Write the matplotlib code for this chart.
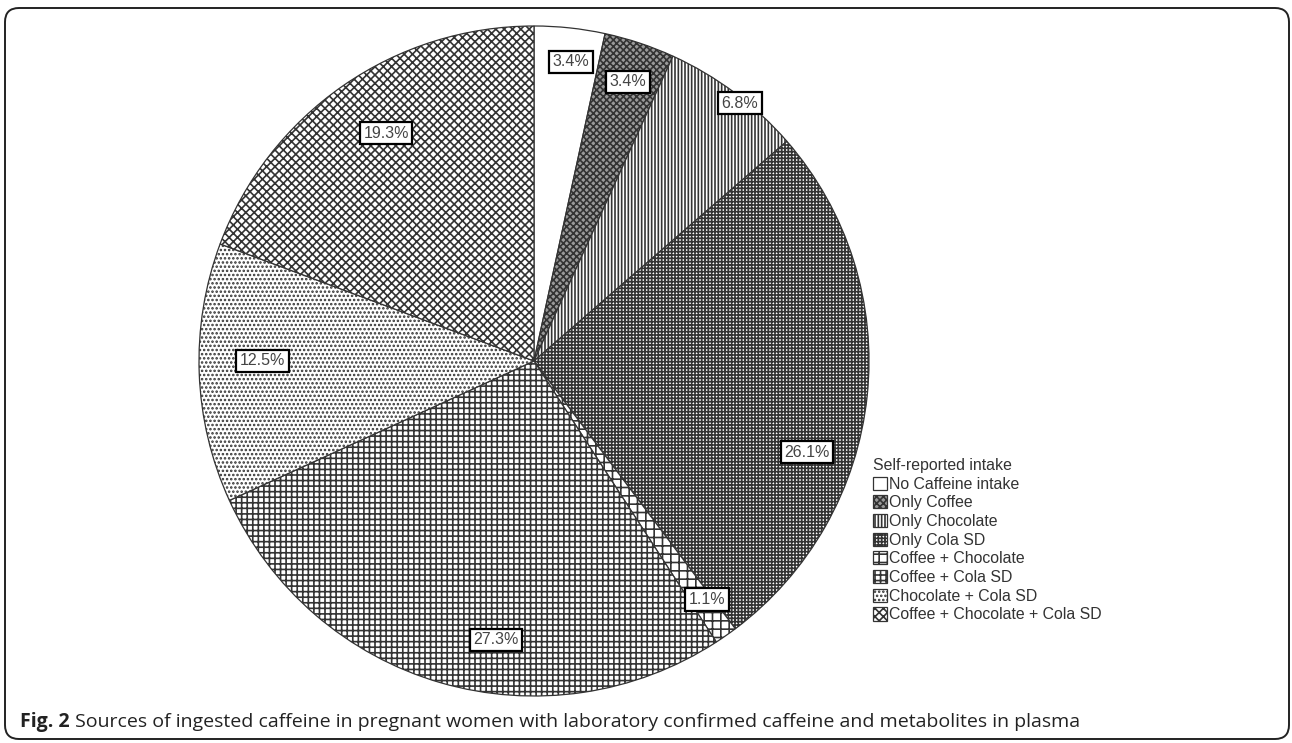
""" Pie chart of caffeine sources with hatched wedges. """

import matplotlib
matplotlib.use("Agg")
import matplotlib.pyplot as plt
from matplotlib.patches import FancyBboxPatch
import numpy as np

CATEGORIES = ["No Caffeine intake", "Only Coffee", "Only Chocolate", "Only Cola SD",
              "Coffee + Chocolate", "Coffee + Cola SD", "Chocolate + Cola SD",
              "Coffee + Chocolate + Cola SD"]
PERCENTS = [3.4, 3.4, 6.8, 26.1, 1.1, 27.3, 12.5, 19.3]

HATCHES = ["", "XXXXX", "|||||", "+++++", "++", "+++", "....", "xxxx"]
FACES = ["white", "#9a9a9a", "white", "white", "white", "white", "white", "white"]
# where each percentage box sits: angle (deg) and fraction of radius
LABEL_THETA = [83, 71.4, 51.4, -18.5, -54, -97.8, 180, 123]
LABEL_R = [0.90, 0.88, 0.985, 0.86, 0.88, 0.84, 0.81, 0.81]

W, H = 1292, 743
CX, CY, R = 534, 361, 335

plt.rcParams["hatch.linewidth"] = 1.2

fig = plt.figure(figsize=(W / 100, H / 100), dpi=100)

# frame and caption in pixel coordinates
bg = fig.add_axes([0, 0, 1, 1])
bg.set_xlim(0, W)
bg.set_ylim(H, 0)
bg.axis("off")
bg.add_patch(FancyBboxPatch((5, 8), 1284, 731, boxstyle="round,pad=0,rounding_size=14",
                            fc="none", ec="#222222", lw=1.4))
t1 = bg.text(20, 722, "Fig. 2", fontsize=14.0, fontweight="bold", family="Open Sans",
             color="#222222", va="center")
bg.annotate(" Sources of ingested caffeine in pregnant women with laboratory confirmed "
            "caffeine and metabolites in plasma", xy=(1, 0.5), xycoords=t1,
            fontsize=14.0, family="Open Sans", color="#222222", va="center")

ax = fig.add_axes([(CX - R) / W, (H - CY - R) / H, 2 * R / W, 2 * R / H])
wedges, _ = ax.pie(PERCENTS, startangle=90, counterclock=False, radius=1,
                   colors=FACES, wedgeprops=dict(edgecolor="#333333", linewidth=0.9))
for w, h in zip(wedges, HATCHES):
    w.set_hatch(h)
ax.set_xlim(-1, 1)
ax.set_ylim(-1, 1)
ax.set_aspect("equal")
ax.axis("off")

for p, th, r in zip(PERCENTS, LABEL_THETA, LABEL_R):
    a = np.deg2rad(th)
    ax.text(r * np.cos(a), r * np.sin(a), "{0:.1f}%".format(p), ha="center", va="center",
            fontsize=11.5, family="Liberation Sans", color="#444444",
            bbox=dict(boxstyle="square,pad=0.22", fc="white", ec="black", lw=1.6))

leg = fig.legend(wedges, CATEGORIES, loc="upper left", bbox_to_anchor=(873 / W, 1 - 458 / H),
                 frameon=False, title="Self-reported intake", alignment="left",
                 prop=dict(family="Liberation Sans", size=11.4),
                 title_fontproperties=dict(family="Liberation Sans", size=11.4),
                 handlelength=0.9, handleheight=0.9, handletextpad=0.1, labelspacing=0.23,
                 borderpad=0, borderaxespad=0)
for t in leg.get_texts():
    t.set_color("#333333")
leg.get_title().set_color("#333333")

fig.savefig("out.png", dpi=100)
